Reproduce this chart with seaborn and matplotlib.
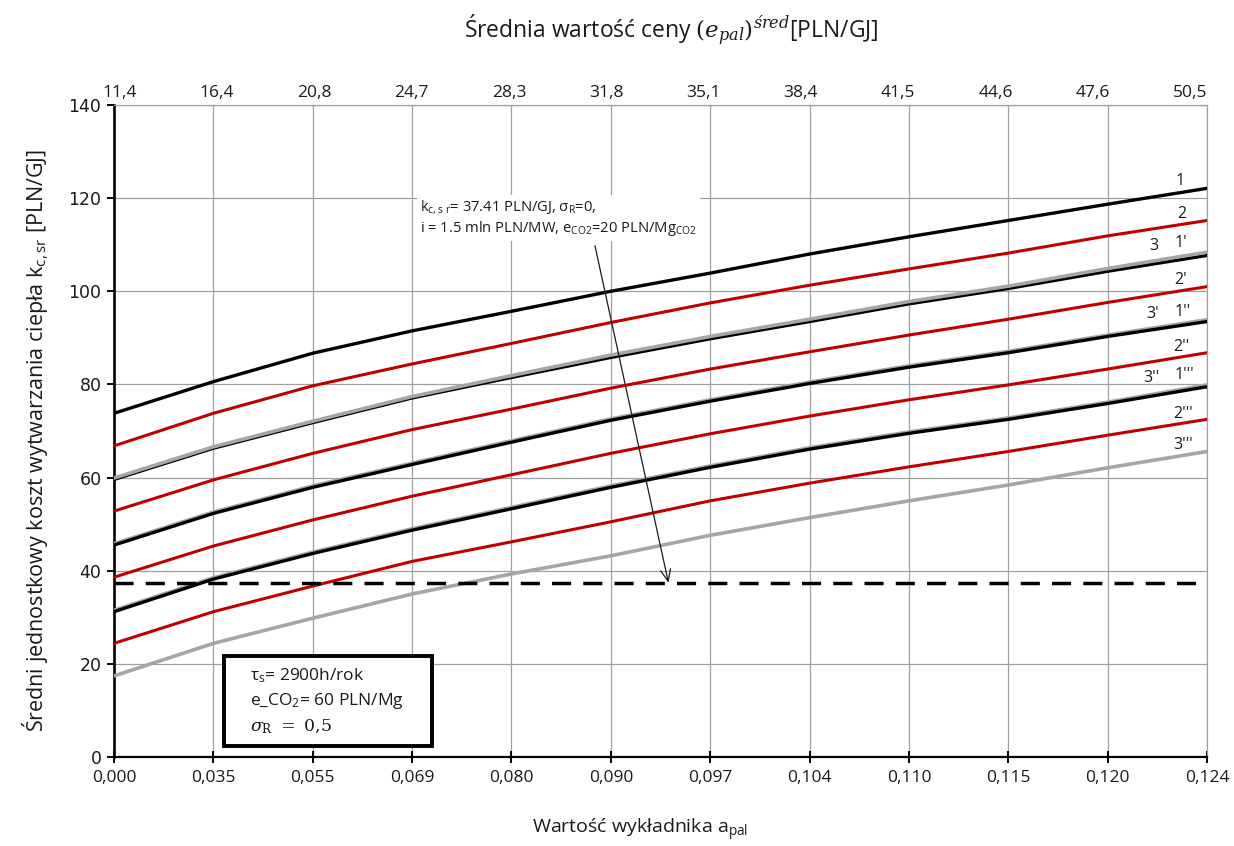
import numpy as np
import pandas as pd
import matplotlib
matplotlib.use("Agg")
import matplotlib.pyplot as plt
import seaborn as sns
from matplotlib.patches import Rectangle

# ---------------- data ----------------
x_labels = ['0,000', '0,035', '0,055', '0,069', '0,080', '0,090',
            '0,097', '0,104', '0,110', '0,115', '0,120', '0,124']
top_labels = ['11,4', '16,4', '20,8', '24,7', '28,3', '31,8',
              '35,1', '38,4', '41,5', '44,6', '47,6', '50,5']

s1    = [73.8, 80.6, 86.7, 91.5, 95.7, 100.0, 103.9, 108.0, 111.7, 115.2, 118.7, 122.1]
s2    = [66.8, 73.8, 79.7, 84.4, 88.8, 93.3, 97.5, 101.3, 104.8, 108.2, 111.9, 115.2]
s3    = [59.9, 66.6, 72.1, 77.4, 81.9, 86.3, 90.3, 94.0, 97.8, 101.1, 104.9, 108.4]
s1p   = [59.6, 66.3, 71.8, 77.1, 81.5, 85.8, 89.8, 93.5, 97.3, 100.6, 104.3, 107.7]
s2p   = [52.8, 59.5, 65.2, 70.3, 74.7, 79.2, 83.3, 87.0, 90.6, 94.0, 97.6, 101.0]
s3p   = [45.8, 52.6, 58.2, 63.1, 67.9, 72.6, 76.7, 80.5, 84.0, 87.1, 90.6, 93.9]
s1pp  = [45.5, 52.3, 57.9, 62.8, 67.6, 72.3, 76.4, 80.2, 83.7, 86.8, 90.3, 93.5]
s2pp  = [38.6, 45.3, 50.9, 56.0, 60.6, 65.2, 69.4, 73.2, 76.7, 79.9, 83.3, 86.8]
s3pp  = [31.5, 38.5, 44.0, 49.0, 53.6, 58.2, 62.5, 66.4, 69.8, 72.8, 76.2, 79.9]
s1ppp = [31.2, 38.2, 43.7, 48.7, 53.3, 57.9, 62.2, 66.1, 69.5, 72.5, 75.9, 79.5]
s2ppp = [24.4, 31.2, 36.7, 42.0, 46.2, 50.5, 55.0, 58.8, 62.3, 65.6, 69.1, 72.5]
s3ppp = [17.4, 24.4, 29.8, 35.0, 39.3, 43.2, 47.6, 51.4, 55.0, 58.4, 62.1, 65.6]

ref_value = 37.41
y_ticks = [0, 20, 40, 60, 80, 100, 120, 140]

# ---------------- styling ----------------
sns.set_theme(style="white")
plt.rcParams['font.family'] = ['Open Sans', 'DejaVu Sans']
plt.rcParams['mathtext.fontset'] = 'custom'
plt.rcParams['mathtext.rm'] = 'Open Sans'
plt.rcParams['mathtext.it'] = 'Open Sans:italic'

BLACK = '#000000'
RED = '#C00000'
GRAY = '#A6A6A6'
GRID = '#A0A0A0'
TXT = '#1a1a1a'

fig = plt.figure(figsize=(12.34, 8.46), dpi=100)
ax = fig.add_axes([114 / 1234, 89 / 846, 1093 / 1234, 652 / 846])

pos = np.arange(len(x_labels))

# (label, values, colour, linewidth, label offset px (dx, dy))
series = [
    ("1",    s1,    BLACK, 2.4, (-27, 7)),
    ("2",    s2,    RED,   2.2, (-25, 6)),
    ("1'",   s1p,   BLACK, 2.4, (-26, 12)),
    ("3",    s3,    GRAY,  2.6, (-53, 6)),
    ("2'",   s2p,   RED,   2.2, (-26, 7)),
    ("3'",   s3p,   GRAY,  2.6, (-54, 6)),
    ("1''",  s1pp,  BLACK, 2.4, (-24, 10)),
    ("2''",  s2pp,  RED,   2.2, (-26, 6)),
    ("3''",  s3pp,  GRAY,  2.6, (-56, 7)),
    ("1'''", s1ppp, BLACK, 2.4, (-23, 12)),
    ("2'''", s2ppp, RED,   2.2, (-24, 5)),
    ("3'''", s3ppp, GRAY,  2.6, (-24, 6)),
]

for name, vals, col, lw, off in series:
    df = pd.DataFrame({"x": pos, "y": vals})
    sns.lineplot(data=df, x="x", y="y", ax=ax, color=col, linewidth=lw,
                 legend=False, zorder=3)
    ax.annotate(name, xy=(pos[-1], vals[-1]), xytext=off,
                textcoords='offset pixels', ha='center', va='center',
                fontsize=11.5, color=TXT, zorder=6)

# reference dashed line
ax.axhline(ref_value, color=BLACK, lw=2.5, dashes=(5.5, 3.5), zorder=4)

# axes limits / ticks
ax.set_xlim(0, len(x_labels) - 1)
ax.set_ylim(0, 140)
ax.set_xticks(pos)
ax.set_xticklabels(x_labels, fontsize=12.5, color=TXT)
ax.set_yticks(y_ticks)
ax.set_yticklabels([str(v) for v in y_ticks], fontsize=12.5, color=TXT,
                   family='DejaVu Sans')
ax.tick_params(axis='x', direction='inout', length=8, width=1.4, color=BLACK,
               pad=5, bottom=True)
ax.tick_params(axis='y', direction='out', length=5, width=1.4, color=BLACK,
               pad=4, left=True)

ax.grid(True, color=GRID, lw=0.9)
ax.set_axisbelow(True)
for side in ['top', 'right']:
    ax.spines[side].set_color(GRID)
    ax.spines[side].set_linewidth(0.9)
ax.spines['left'].set_color(BLACK)
ax.spines['left'].set_linewidth(1.9)
ax.spines['bottom'].set_color(BLACK)
ax.spines['bottom'].set_linewidth(1.6)
ax.set_xlabel("")
ax.set_ylabel("")
fig.text(36 / 1234, 1 - 440 / 846,
         r"Średni jednostkowy koszt wytwarzania ciepła k$_{\mathrm{c,sr}}$ [PLN/GJ]",
         fontsize=15.5, color=TXT, rotation=90, ha='center', va='center')

# top axis
ax2 = ax.twiny()
ax2.set_xlim(-0.06, 11.175)
ax2.set_xticks(pos)
ax2.set_xticklabels(top_labels, fontsize=12.5, color=TXT)
ax2.tick_params(axis='x', length=0, pad=3)
for s in ax2.spines.values():
    s.set_visible(False)
ax2.grid(False)

# axis titles
fig.text(640 / 1234, 1 - 830 / 846, r"Wartość wykładnika a$_{\mathrm{pal}}$",
         ha='center', va='center', fontsize=14, color=TXT)
top_title = fig.text(671 / 1234, 1 - 30 / 846,
                     r"Średnia wartość ceny $(e_{pal})^{śred}$[PLN/GJ]",
                     ha='center', va='center', fontsize=16.5, color=TXT)
top_title.set_math_fontfamily('dejavuserif')

# annotation text + arrow
ax.text(3.08, 115.8,
        r"k$_{\mathrm{c,s\ r}}$= 37.41 PLN/GJ, σ$_{\mathrm{R}}$=0," "\n"
        r"i = 1.5 mln PLN/MW, e$_{\mathrm{CO2}}$=20 PLN/Mg$_{\mathrm{CO2}}$",
        fontsize=10.6, color=TXT, ha='left', va='center', linespacing=1.25,
        zorder=6,
        bbox=dict(facecolor='white', edgecolor='none', pad=2))
ax.annotate('', xy=(5.58, ref_value), xytext=(4.84, 109.8),
            arrowprops=dict(arrowstyle='->,head_length=0.7,head_width=0.3',
                            lw=0.9, color=TXT, shrinkA=0, shrinkB=0),
            zorder=6)

# parameter box
ax.add_patch(Rectangle((1.107, 2.4), 2.093, 19.3, facecolor='white',
                       edgecolor=BLACK, lw=2.8, zorder=7))
ax.text(1.37, 17.4, r"τ$_{\mathrm{s}}$= 2900h/rok", fontsize=12.5, color=TXT,
        va='center', ha='left', zorder=8)
ax.text(1.37, 12.0, r"e_CO$_{\mathrm{2}}$= 60 PLN/Mg", fontsize=12.5, color=TXT,
        va='center', ha='left', zorder=8)
sig = ax.text(1.37, 6.4, r"$\sigma_{\mathrm{R}}\ =\ 0{,}5$", fontsize=12.5,
              color=TXT, va='center', ha='left', zorder=8)
sig.set_math_fontfamily('dejavuserif')

fig.savefig("out.png", dpi=100, facecolor='white')
